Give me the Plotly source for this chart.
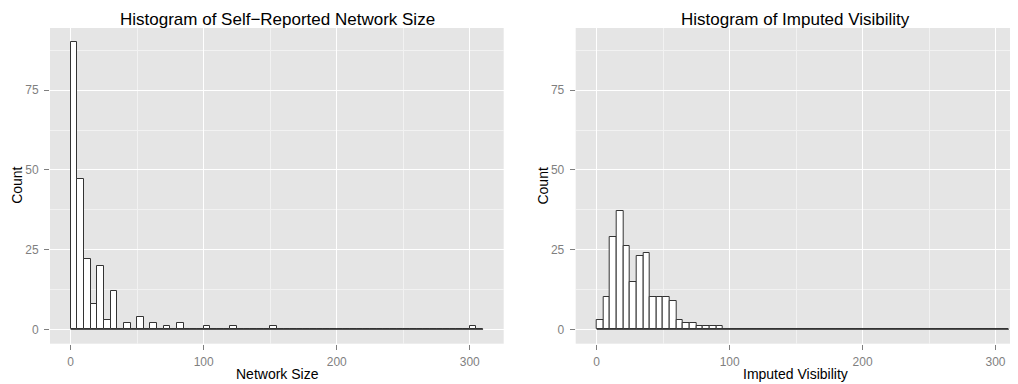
import numpy as np
import plotly.graph_objects as go

# Bin edges (binwidth 5, from 0 to 310)
bin_width = 5
bin_start = 0
n_bins = 62

# Counts per bin: Self-reported network size
network_counts = [90, 47, 22, 8, 20, 3, 12, 0, 2, 0,
                  4, 0, 2, 0, 1, 0, 2, 0, 0, 0,
                  1, 0, 0, 0, 1, 0, 0, 0, 0, 0,
                  1, 0, 0, 0, 0, 0, 0, 0, 0, 0,
                  0, 0, 0, 0, 0, 0, 0, 0, 0, 0,
                  0, 0, 0, 0, 0, 0, 0, 0, 0, 0,
                  1, 0]

# Counts per bin: Imputed visibility
visibility_counts = [3, 10, 29, 37, 26, 15, 23, 24, 10, 10,
                     10, 9, 3, 2, 2, 1, 1, 1, 1, 0,
                     0, 0, 0, 0, 0, 0, 0, 0, 0, 0,
                     0, 0, 0, 0, 0, 0, 0, 0, 0, 0,
                     0, 0, 0, 0, 0, 0, 0, 0, 0, 0,
                     0, 0, 0, 0, 0, 0, 0, 0, 0, 0,
                     0, 0]

titles = ["Histogram of Self\u2212Reported Network Size", "Histogram of Imputed Visibility"]
x_titles = ["Network Size", "Imputed Visibility"]
y_title = "Count"
x_ticks = [0, 100, 200, 300]
y_ticks = [0, 25, 50, 75]

edges = bin_start + bin_width * np.arange(n_bins + 1)
centers = (edges[:-1] + edges[1:]) / 2

# The page body has an 8px default margin; lay out in window pixels and shift.
OFF = 8
WIN_W, WIN_H = 1018, 384
W, H = WIN_W - OFF, WIN_H - OFF
FONT = "Liberation Sans"
BG = "#E5E5E5"
TICK_GREY = "#7F7F7F"

def px_x(x):
    return (x - OFF) / W

def px_y(y):
    return 1 - (y - OFF) / H

# panel pixel geometry (window coordinates)
panels = [
    dict(x0=50, x1=503.7, xr=[-15.5, 325.5], cx=277),
    dict(x0=575.7, x1=1018, xr=[-15.8, 316.9], cx=795),
]
y_top, y_bot = 28, 343.7
y_range = [-4.5, 94.5]

fig = go.Figure()
series = [network_counts, visibility_counts]
for i, (p, counts) in enumerate(zip(panels, series)):
    xa = "x" if i == 0 else "x2"
    ya = "y" if i == 0 else "y2"
    fig.add_trace(go.Scatter(
        x=[edges[0], edges[-1]], y=[0, 0], mode="lines",
        line=dict(color="#333333", width=1), xaxis=xa, yaxis=ya,
        showlegend=False, hoverinfo="skip"))
    fig.add_trace(go.Bar(
        x=centers, y=counts, width=bin_width,
        marker=dict(color="white", line=dict(color="#333333", width=1)),
        xaxis=xa, yaxis=ya, showlegend=False))

def xaxis(p, anchor):
    return dict(
        domain=[px_x(p["x0"]), min(px_x(p["x1"]), 1.0)], range=p["xr"], anchor=anchor,
        tickvals=x_ticks, ticks="outside", ticklen=5, tickcolor=TICK_GREY, tickwidth=1,
        tickfont=dict(family=FONT, size=12, color=TICK_GREY),
        showgrid=True, gridcolor="white", gridwidth=1.2,
        minor=dict(dtick=50, tick0=0, showgrid=True, gridcolor="#F2F2F2", gridwidth=0.6, ticks=""),
        zeroline=False, showline=False, ticklabelstandoff=2)

def yaxis(anchor):
    return dict(
        domain=[px_y(y_bot), px_y(y_top)], range=y_range, anchor=anchor,
        tickvals=y_ticks, ticks="outside", ticklen=5, tickcolor=TICK_GREY, tickwidth=1,
        tickfont=dict(family=FONT, size=12, color=TICK_GREY),
        showgrid=True, gridcolor="white", gridwidth=1.2,
        minor=dict(dtick=12.5, tick0=0, showgrid=True, gridcolor="#F2F2F2", gridwidth=0.6, ticks=""),
        zeroline=False, showline=False, ticklabelstandoff=3)

fig.update_layout(
    width=W, height=H,
    margin=dict(l=0, r=0, t=0, b=0),
    paper_bgcolor="white", plot_bgcolor=BG,
    bargap=0,
    xaxis=xaxis(panels[0], "y"),
    yaxis=yaxis("x"),
    xaxis2=xaxis(panels[1], "y2"),
    yaxis2=yaxis("x2"),
    font=dict(family=FONT),
)

annotations = []
for p, t, xt in zip(panels, titles, x_titles):
    annotations.append(dict(text=t, x=px_x(p["cx"]), y=1.0, xref="paper", yref="paper",
                            xanchor="center", yanchor="top", showarrow=False,
                            font=dict(family=FONT, size=17, color="black")))
    annotations.append(dict(text=xt, x=px_x(p["cx"]), y=0.0, xref="paper", yref="paper",
                            xanchor="center", yanchor="bottom", showarrow=False,
                            font=dict(family=FONT, size=14, color="black")))
    annotations.append(dict(text=y_title, x=px_x(p["x0"] - 33), y=px_y((y_top + y_bot) / 2),
                            xref="paper", yref="paper", textangle=-90,
                            xanchor="center", yanchor="middle", showarrow=False,
                            font=dict(family=FONT, size=14, color="black")))
fig.update_layout(annotations=annotations)

fig.write_html("out.html")
